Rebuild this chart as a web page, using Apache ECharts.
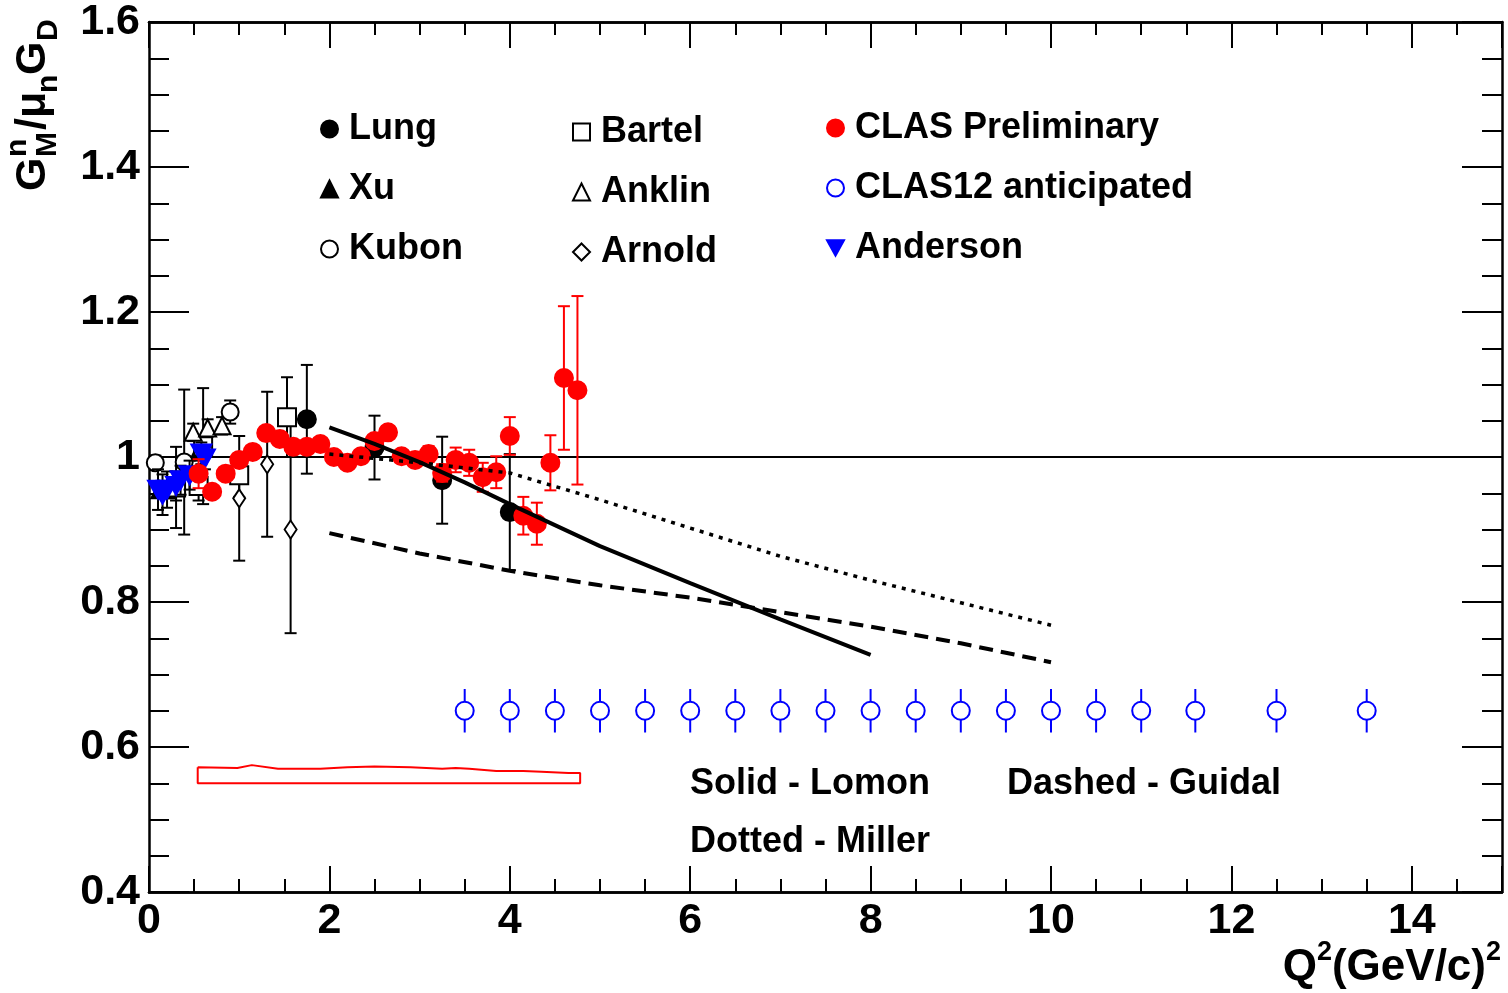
<!DOCTYPE html>
<html><head><meta charset="utf-8">
<script src="https://cdn.jsdelivr.net/npm/echarts@6/dist/echarts.min.js"></script>
<style>html,body{margin:0;padding:0;background:#fff}#c{width:1508px;height:993px}</style>
</head><body><div id="c"></div>
<script>
// ---------- data ----------
const clasQ2  = [0.55,0.7,0.85,1.0,1.15,1.3,1.45,1.6,1.75,1.9,2.05,2.2,2.35,2.5,2.65,2.8,2.95,3.1,3.25,3.4,3.55,3.7,3.85,4.0,4.15,4.3,4.45,4.6,4.75];
const clasVal = [0.977,0.952,0.977,0.996,1.007,1.033,1.025,1.014,1.014,1.018,1.0,0.992,1.001,1.022,1.034,1.001,0.996,1.004,0.978,0.996,0.992,0.972,0.979,1.029,0.919,0.908,0.992,1.109,1.092];
const clasErr = [0.02,0.006,0.006,0.006,0.006,0.006,0.006,0.006,0.006,0.006,0.006,0.006,0.006,0.006,0.006,0.008,0.008,0.011,0.012,0.017,0.018,0.02,0.022,0.026,0.026,0.029,0.038,0.099,0.13];

const sysQ2   = [0.54,0.98,1.14,1.43,1.9,2.2,2.5,2.9,3.25,3.4,3.55,3.85,4.15,4.35,4.65,4.78];
const sysTop  = [0.572,0.571,0.575,0.570,0.570,0.572,0.573,0.572,0.570,0.571,0.570,0.567,0.567,0.566,0.564,0.564];
const sysBase = 0.550;

const clas12Q2  = [3.5,4,4.5,5,5.5,6,6.5,7,7.5,8,8.5,9,9.5,10,10.5,11,11.6,12.5,13.5];
const clas12Val = [0.65,0.65,0.65,0.65,0.65,0.65,0.65,0.65,0.65,0.65,0.65,0.65,0.65,0.65,0.65,0.65,0.65,0.65,0.65];
const clas12Err = [0.03,0.03,0.03,0.03,0.03,0.03,0.03,0.03,0.03,0.03,0.03,0.03,0.03,0.03,0.03,0.03,0.03,0.03,0.03];

const lungQ2 = [1.75,2.5,3.25,4.0];
const lungVal = [1.052,1.013,0.968,0.924];
const lungErr = [0.075,0.044,0.06,0.08];

const xuQ2 = [0.12,0.2,0.56];
const xuVal = [0.955,0.955,1.01];
const xuErr = [0.01,0.01,0.015];

const kubonQ2 = [0.07,0.39,0.9];
const kubonVal = [0.992,0.993,1.062];
const kubonErr = [0.01,0.1,0.016];

const bartelQ2 = [0.3,0.55,0.6,1.0,1.53];
const bartelVal = [0.958,0.96,1.015,0.975,1.055];
const bartelErr = [0.056,0.02,0.08,0.03,0.055];

const anklinQ2 = [0.49,0.65,0.81];
const anklinVal = [1.034,1.04,1.043];
const anklinErr = [0.012,0.012,0.012];

const arnoldQ2 = [1.0,1.31,1.57];
const arnoldVal = [0.943,0.99,0.90];
const arnoldErr = [0.086,0.10,0.143];

const andersonQ2 = [0.1,0.15,0.2,0.3,0.35,0.45,0.58,0.62];
const andersonVal = [0.955,0.948,0.955,0.96,0.968,0.975,1.005,0.998];
const andersonErr = [0.028,0.028,0.025,0.02,0.02,0.02,0.015,0.015];

const lomonQ2 = [2,2.5,3,3.5,4,5,6,7,8];
const lomonVal = [1.041,1.018,0.993,0.965,0.935,0.877,0.826,0.776,0.727];
const guidalQ2 = [2,3,4,5,6,7,8,9,10];
const guidalVal = [0.895,0.867,0.843,0.823,0.806,0.786,0.766,0.743,0.717];
const millerQ2 = [2,3,4,5,6,7,8,9,10];
const millerVal = [1.004,0.992,0.978,0.941,0.902,0.863,0.830,0.799,0.768];

const unityQ2 = [0, 15];
const unityVal = [1, 1];

const xTickLabels = ['0','2','4','6','8','10','12','14'];

// ---------- helpers ----------
const FONT = "'Liberation Sans', Arial, Helvetica, sans-serif";
const zip2 = (a,b) => a.map((v,i)=>[v,b[i]]);
const zip3 = (a,b,c) => a.map((v,i)=>[v,b[i],c[i]]);

function errItem(color, capHalf, lw) {
  return function (params, api) {
    const x = api.value(0), y = api.value(1), e = api.value(2);
    const lo = api.coord([x, y - e]), hi = api.coord([x, y + e]);
    const st = {stroke: color, lineWidth: lw};
    const ch = [{type:'line', shape:{x1:lo[0],y1:lo[1],x2:hi[0],y2:hi[1]}, style:st}];
    if (capHalf > 0) {
      ch.push({type:'line', shape:{x1:lo[0]-capHalf,y1:lo[1],x2:lo[0]+capHalf,y2:lo[1]}, style:st});
      ch.push({type:'line', shape:{x1:hi[0]-capHalf,y1:hi[1],x2:hi[0]+capHalf,y2:hi[1]}, style:st});
    }
    return {type:'group', children: ch};
  };
}
function errSeries(data, color, capHalf, z) {
  return {type:'custom', renderItem: errItem(color, capHalf, 2), data: data,
          encode:{x:0,y:1}, z: z, silent: true, clip: false};
}
function scatter(name, data, symbol, size, color, z, extra) {
  return Object.assign({type:'scatter', name:name, data:data, symbol:symbol, symbolSize:size,
    itemStyle:{color:color, borderColor:color, borderWidth:2, opacity:1}, z:z, silent:true}, extra||{});
}

// ---------- axes ----------
const axisLineStyle = {color:'#000', width:2.5};
const tickStyle = {color:'#000', width:2};
function xAx(pos, interval, len, labels) {
  return {type:'value', min:0, max:15, interval:interval, position:pos,
    axisLine:{show:true, onZero:false, lineStyle:axisLineStyle},
    axisTick:{show:true, inside:true, length:len, lineStyle:tickStyle},
    minorTick:{show:false},
    splitLine:{show:false},
    axisLabel: labels ? {show:true, margin:8, color:'#000', fontSize:43, fontWeight:'bold', fontFamily:FONT,
      showMaxLabel:false,
      formatter: v => { const s = String(Math.round(v*100)/100); return xTickLabels.indexOf(s) >= 0 ? s : ''; }} : {show:false}};
}
function yAx(pos, labels) {
  return {type:'value', min:0.4, max:1.6, interval:0.2, position:pos,
    axisLine:{show:true, onZero:false, lineStyle:axisLineStyle},
    axisTick:{show:true, inside:true, length:40, lineStyle:tickStyle},
    minorTick:{show:true, splitNumber:4, length:20, lineStyle:tickStyle},
    splitLine:{show:false},
    axisLabel: labels ? {show:true, margin:9, color:'#000', fontSize:43, fontWeight:'bold', fontFamily:FONT} : {show:false}};
}

const legendText = {fontSize:36, fontWeight:'bold', fontFamily:FONT, color:'#000', lineHeight:40, padding:[0,0,0,6]};
function legend(names, left, top) {
  return {data:names, left:left, top:top, orient:'vertical', itemGap:20, itemWidth:17, itemHeight:17,
    selectedMode:false, textStyle:legendText, padding:0};
}

const supStyle = {fontWeight:'bold', fontFamily:FONT, fill:'#000', verticalAlign:'middle'};
const chart = echarts.init(document.getElementById('c'), null, {renderer:'canvas'});
chart.setOption({
  animation:false,
  backgroundColor:'#fff',
  grid:{left:149, top:22, right:6, bottom:101, containLabel:false},
  xAxis:[ xAx('bottom',0.5,13,true), xAx('bottom',2,26,false), xAx('top',0.5,13,false), xAx('top',2,26,false) ],
  yAxis:[ yAx('left',true), yAx('right',false) ],
  legend:[
    legend(['Lung','Xu','Kubon'], 320, 109),
    legend(['Bartel','Anklin','Arnold'], 572, 112),
    legend(['CLAS Preliminary','CLAS12 anticipated','Anderson'], 826, 108)
  ],
  series:[
    {type:'line', data:zip2(unityQ2, unityVal), symbol:'none', lineStyle:{color:'#000', width:2}, z:1, silent:true},
    {type:'line', data: zip2(sysQ2, sysTop).concat([[sysQ2[sysQ2.length-1], sysBase],[sysQ2[0], sysBase],[sysQ2[0], sysTop[0]]]),
      symbol:'none', lineStyle:{color:'#f00', width:2}, z:2, silent:true},
    errSeries(zip3(lungQ2,lungVal,lungErr), '#000', 6, 3),
    errSeries(zip3(xuQ2,xuVal,xuErr), '#000', 6, 3),
    errSeries(zip3(kubonQ2,kubonVal,kubonErr), '#000', 6, 3),
    errSeries(zip3(bartelQ2,bartelVal,bartelErr), '#000', 6, 3),
    errSeries(zip3(anklinQ2,anklinVal,anklinErr), '#000', 6, 3),
    errSeries(zip3(arnoldQ2,arnoldVal,arnoldErr), '#000', 6, 3),
    scatter('Lung', zip2(lungQ2,lungVal), 'circle', 18, '#000', 4),
    scatter('Xu', zip2(xuQ2,xuVal), 'triangle', 17, '#000', 4),
    scatter('Kubon', zip2(kubonQ2,kubonVal), 'emptyCircle', 17, '#000', 4),
    scatter('Bartel', zip2(bartelQ2,bartelVal), 'emptyRect', 18, '#000', 4),
    scatter('Anklin', zip2(anklinQ2,anklinVal), 'emptyTriangle', 17, '#000', 4),
    scatter('Arnold', zip2(arnoldQ2,arnoldVal), 'emptyDiamond', [12,18], '#000', 4),
    errSeries(zip3(andersonQ2,andersonVal,andersonErr), '#000', 6, 5),
    scatter('Anderson', zip2(andersonQ2,andersonVal), 'path://M0,0L10,0L5,9Z', [20,18], '#00f', 6),
    errSeries(zip3(clas12Q2,clas12Val,clas12Err), '#00f', 0, 5),
    scatter('CLAS12 anticipated', zip2(clas12Q2,clas12Val), 'emptyCircle', 18, '#00f', 6),
    errSeries(zip3(clasQ2,clasVal,clasErr), '#f00', 6, 7),
    scatter('CLAS Preliminary', zip2(clasQ2,clasVal), 'circle', 18, '#f00', 8),
    {type:'line', name:'Lomon', data:zip2(lomonQ2,lomonVal), symbol:'none', lineStyle:{color:'#000', width:4, type:'solid'}, z:9, silent:true},
    {type:'line', name:'Guidal', data:zip2(guidalQ2,guidalVal), symbol:'none', lineStyle:{color:'#000', width:4, type:[14,8]}, z:9, silent:true},
    {type:'line', name:'Miller', data:zip2(millerQ2,millerVal), symbol:'none', lineStyle:{color:'#000', width:3.5, type:[4,6]}, z:9, silent:true}
  ],
  graphic:[
    {type:'text', x:690, y:784, style:{text:'Solid - Lomon', fontSize:36, fontWeight:'bold', fontFamily:FONT, fill:'#000', verticalAlign:'middle'}},
    {type:'text', x:1007, y:784, style:{text:'Dashed - Guidal', fontSize:36, fontWeight:'bold', fontFamily:FONT, fill:'#000', verticalAlign:'middle'}},
    {type:'text', x:690, y:842, style:{text:'Dotted - Miller', fontSize:36, fontWeight:'bold', fontFamily:FONT, fill:'#000', verticalAlign:'middle'}},
    {type:'text', x:1501, y:939, style:{text:'{m|Q}{s|2}{m|(GeV/c)}{s|2}', align:'right', verticalAlign:'top',
      rich:{ m:{fontSize:44, fontWeight:'bold', fontFamily:FONT, fill:'#000', lineHeight:58},
             s:{fontSize:27, fontWeight:'bold', fontFamily:FONT, fill:'#000', lineHeight:20, verticalAlign:'top'} }}},
    {type:'group', x:33, y:191, rotation:Math.PI/2, children:[
      {type:'text', x:0, y:0, style:Object.assign({text:'G', fontSize:43}, supStyle)},
      {type:'text', x:34, y:-15, style:Object.assign({text:'n', fontSize:30}, supStyle)},
      {type:'text', x:34, y:15, style:Object.assign({text:'M', fontSize:30}, supStyle)},
      {type:'text', x:61, y:0, style:Object.assign({text:'/\u03bc', fontSize:43}, supStyle)},
      {type:'text', x:98, y:16, style:Object.assign({text:'n', fontSize:30}, supStyle)},
      {type:'text', x:116, y:0, style:Object.assign({text:'G', fontSize:43}, supStyle)},
      {type:'text', x:150, y:16, style:Object.assign({text:'D', fontSize:30}, supStyle)}
    ]}
  ]
});
</script></body></html>
